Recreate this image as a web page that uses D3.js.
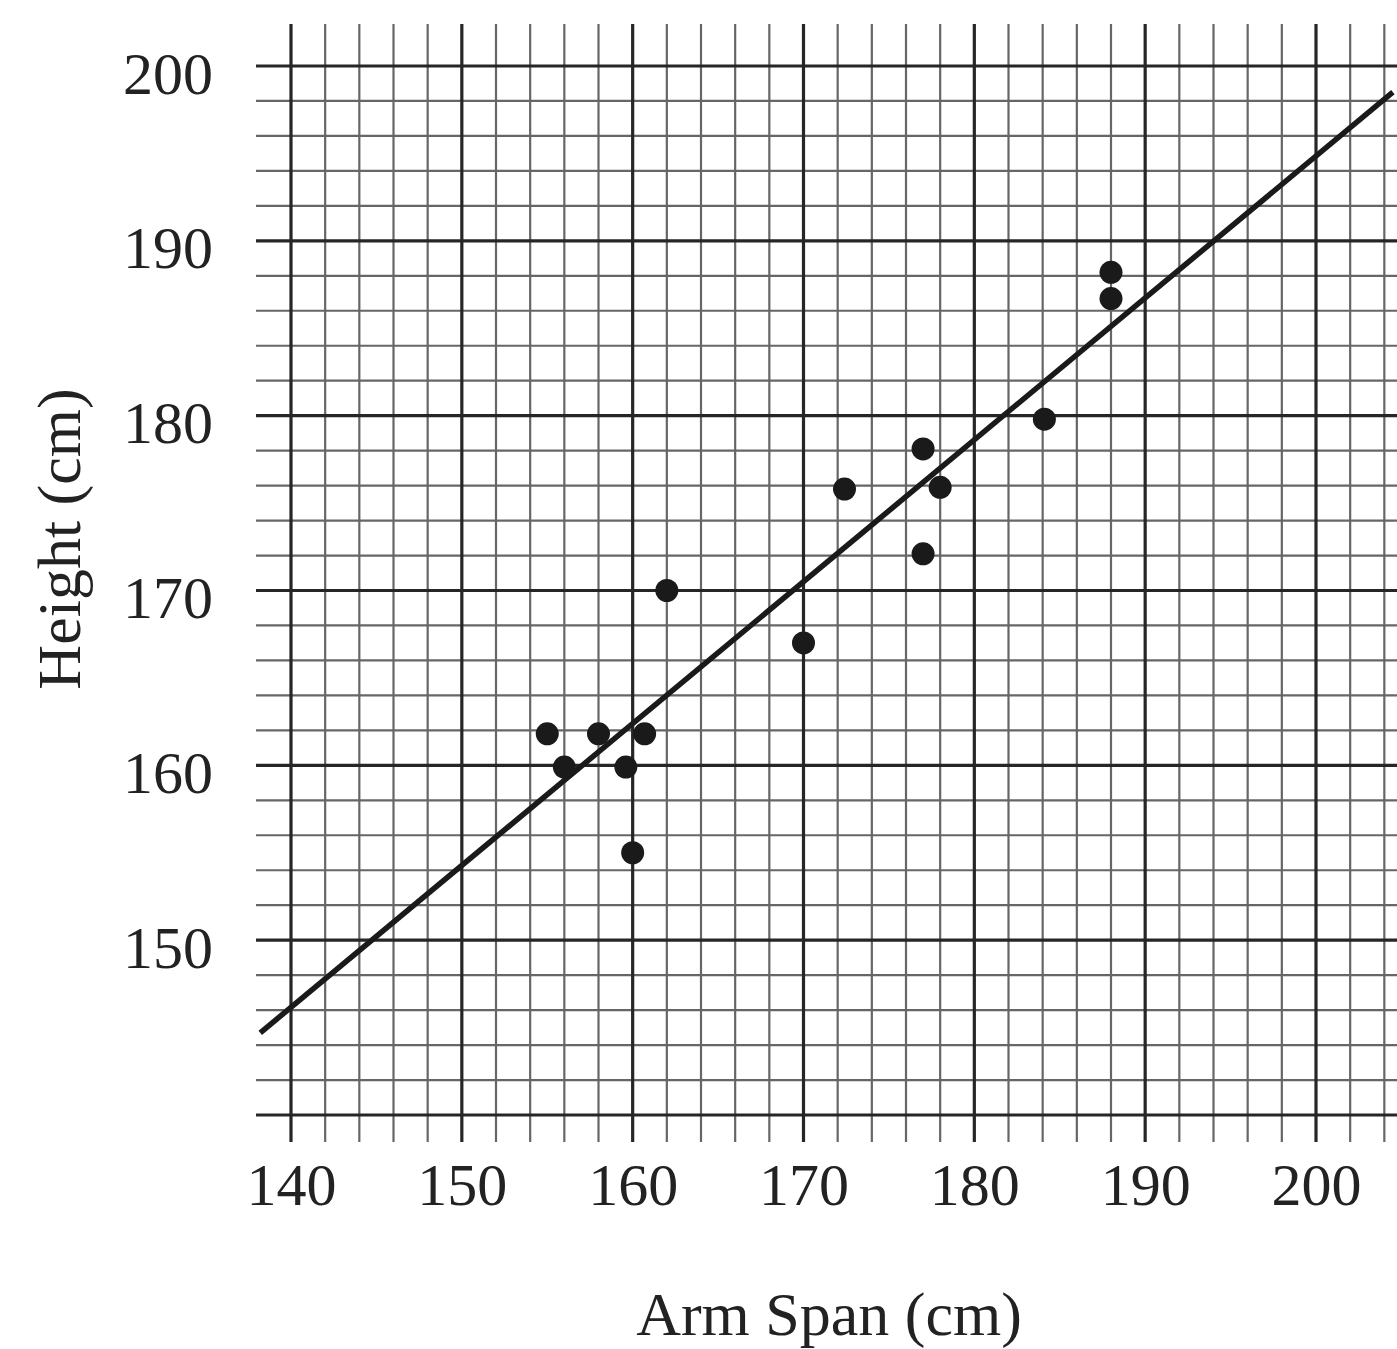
<!DOCTYPE html>
<html><head><meta charset="utf-8">
<script src="https://cdn.jsdelivr.net/npm/d3@7"></script>
<style>body{margin:0;background:#fff}</style>
</head><body><svg id="c" width="1397" height="1349"></svg>
<script>
// Data
const armSpan = [155, 156, 158, 159.6, 160, 160.7, 162, 170, 172.4, 177, 178, 177, 184.1, 188, 188];
const heightCm = [161.8, 159.9, 161.8, 159.9, 155, 161.8, 170, 167, 175.8, 178.1, 175.9, 172.1, 179.8, 188.2, 186.7];
const fitX = [138.2, 204.5];
const fitY = [144.7, 198.5];
const xTickValues = [140, 150, 160, 170, 180, 190, 200];
const yTickValues = [150, 160, 170, 180, 190, 200];
const xTitle = "Arm Span (cm)";
const yTitle = "Height (cm)";

const svg = d3.select("#c");
const x = d3.scaleLinear().domain([140, 200]).range([291, 1316]);
const y = d3.scaleLinear().domain([140, 200]).range([1115, 66]);
const font = "'Liberation Serif','Times New Roman',serif";

const hVals = d3.range(140, 201, 2);
const vVals = d3.range(140, 205, 2);
const isMajor = v => v % 10 === 0;
const gridG = svg.append("g");

function drawGrid(major) {
  gridG.selectAll(null).data(hVals.filter(v => isMajor(v) === major)).join("line")
    .attr("x1", 256).attr("x2", 1397)
    .attr("y1", d => y(d)).attr("y2", d => y(d))
    .attr("stroke", major ? "#262626" : "#666")
    .attr("stroke-width", major ? 3.2 : 2.2);
  gridG.selectAll(null).data(vVals.filter(v => isMajor(v) === major)).join("line")
    .attr("x1", d => x(d)).attr("x2", d => x(d))
    .attr("y1", 24).attr("y2", 1142)
    .attr("stroke", major ? "#262626" : "#666")
    .attr("stroke-width", major ? 3.2 : 2.2);
}
drawGrid(false);
drawGrid(true);

// Fit line
const line = d3.line().x(d => x(d[0])).y(d => y(d[1]));
svg.append("path")
  .attr("d", line(d3.zip(fitX, fitY)))
  .attr("fill", "none").attr("stroke", "#1a1a1a").attr("stroke-width", 5.5);

// Points
svg.append("g").selectAll("circle").data(d3.zip(armSpan, heightCm)).join("circle")
  .attr("cx", d => x(d[0])).attr("cy", d => y(d[1])).attr("r", 11.5)
  .attr("fill", "#1a1a1a");

// Axes (labels only)
const xAxis = d3.axisBottom(x).tickValues(xTickValues).tickSize(0).tickFormat(d3.format("d"));
const gx = svg.append("g").attr("transform", "translate(0,1205)").call(xAxis);
gx.select(".domain").remove();
gx.selectAll("text").attr("y", 0).attr("dy", 0)
  .attr("font-family", font).attr("font-size", 60).attr("fill", "#222");

const yAxis = d3.axisLeft(y).tickValues(yTickValues).tickSize(0).tickFormat(d3.format("d"));
const gy = svg.append("g").attr("transform", "translate(213,0)").call(yAxis);
gy.select(".domain").remove();
gy.selectAll("text").attr("x", 0).attr("dy", "0.45em")
  .attr("font-family", font).attr("font-size", 60).attr("fill", "#222");

svg.append("text").attr("x", 829).attr("y", 1335).attr("text-anchor", "middle")
  .attr("font-family", font).attr("font-size", 62).attr("fill", "#222").text(xTitle);
svg.append("text").attr("transform", "translate(80,539) rotate(-90)").attr("text-anchor", "middle")
  .attr("font-family", font).attr("font-size", 62).attr("fill", "#222").text(yTitle);
</script></body></html>
